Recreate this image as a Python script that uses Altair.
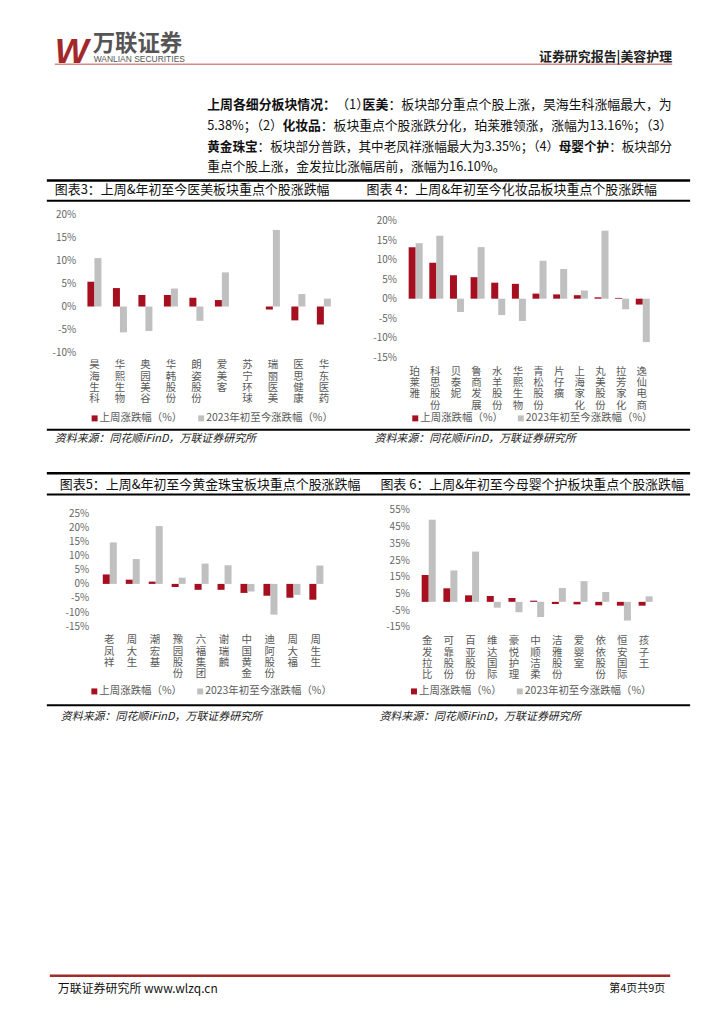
import altair as alt
import pandas as pd

FONT = "Noto Sans CJK SC"
RED = "#a50f1f"
GRAY = "#c0c0c0"
SERIES = ["上周涨跌幅（%）", "2023年初至今涨跌幅（%）"]

# ---- chart 3: 医美 ----
c3_names = ["昊海生科", "华熙生物", "奥园美谷", "华韩股份", "朗姿股份", "爱美客", "苏宁环球", "瑞丽医美", "医思健康", "华东医药"]
c3_week = [5.38, 4.0, 2.5, 2.5, 1.9, 1.4, 0.0, -0.65, -3.0, -3.9]
c3_ytd = [10.5, -5.6, -5.3, 3.9, -3.1, 7.4, 0.0, 16.6, 2.7, 1.7]
c3_ticks = [-10, -5, 0, 5, 10, 15, 20]

# ---- chart 4: 化妆品 ----
c4_names = ["珀莱雅", "科思股份", "贝泰妮", "鲁商发展", "水羊股份", "华熙生物", "青松股份", "片仔癀", "上海家化", "丸美股份", "拉芳家化", "逸仙电商"]
c4_week = [13.16, 9.2, 6.0, 5.5, 4.1, 3.8, 1.3, 1.1, 0.9, 0.35, 0.2, -1.5]
c4_ytd = [14.2, 16.1, -3.4, 13.2, -4.2, -5.7, 9.7, 7.6, 2.1, 17.4, -2.7, -11.1]
c4_ticks = [-15, -10, -5, 0, 5, 10, 15, 20]

# ---- chart 5: 黄金珠宝 ----
c5_names = ["老凤祥", "周大生", "潮宏基", "豫园股份", "六福集团", "谢瑞麟", "中国黄金", "迪阿股份", "周大福", "周生生"]
c5_week = [3.35, 1.5, 0.8, -1.1, -2.1, -2.1, -3.2, -4.2, -4.9, -5.6]
c5_ytd = [14.7, 8.8, 20.5, 2.2, 7.2, 6.6, -2.7, -10.9, -3.9, 6.5]
c5_ticks = [-15, -10, -5, 0, 5, 10, 15, 20, 25]

# ---- chart 6: 母婴个护 ----
c6_names = ["金发拉比", "可靠股份", "百亚股份", "维达国际", "豪悦护理", "中顺洁柔", "洁雅股份", "爱婴室", "依依股份", "恒安国际", "孩子王"]
c6_week = [16.10, 8.1, 3.9, 3.5, 2.3, 0.7, -1.3, -1.5, -2.1, -2.3, -2.3]
c6_ytd = [49.2, 18.8, 30.1, -3.5, -6.2, -9.0, 8.3, 12.4, 5.9, -11.2, 3.3]
c6_ticks = [-15, -5, 5, 15, 25, 35, 45, 55]

titles = [
    "图表3：上周&年初至今医美板块重点个股涨跌幅",
    "图表 4：上周&年初至今化妆品板块重点个股涨跌幅",
    "图表5：上周&年初至今黄金珠宝板块重点个股涨跌幅",
    "图表 6：上周&年初至今母婴个护板块重点个股涨跌幅",
]
source_text = "资料来源：同花顺iFinD，万联证券研究所"

para_lines = [
    [("上周各细分板块情况：", True), ("（1）", False), ("医美", True), ("：板块部分重点个股上涨，昊海生科涨幅最大，为", False)],
    [("5.38%；（2）", False), ("化妆品", True), ("：板块重点个股涨跌分化，珀莱雅领涨，涨幅为13.16%；（3）", False)],
    [("黄金珠宝", True), ("：板块部分普跌，其中老凤祥涨幅最大为3.35%；（4）", False), ("母婴个护", True), ("：板块部分", False)],
    [("重点个股上涨，金发拉比涨幅居前，涨幅为16.10%。", False)],
]

D = alt.Data(values=[{"a": 0}])


def tw(s, fs):
    w = 0.0
    prev = ""
    for c in s:
        if ord(c) >= 0x2E80 or c in "：；，。（）":
            w += fs
            if c == "（" and prev in "：；，。）":
                w -= 0.5 * fs
        elif c in ".,":
            w += 0.28 * fs
        elif c == "%":
            w += 0.88 * fs
        elif c.isdigit():
            w += 0.553 * fs
        elif c == " ":
            w += 0.22 * fs
        else:
            w += 0.6 * fs
        prev = c
    return w


def txt(s, x, y, size=12, color="#222", align="left", weight="normal", style="normal", font=FONT, baseline="middle"):
    return alt.Chart(D).mark_text(text=s, align=align, baseline=baseline, fontSize=size, color=color,
                                  fontWeight=weight, fontStyle=style, font=font).encode(
        x=alt.value(x), y=alt.value(y))


def hline(x1, x2, y, w=1, color="#000"):
    return alt.Chart(D).mark_rule(color=color, strokeWidth=w).encode(
        x=alt.value(x1), x2=alt.value(x2), y=alt.value(y))


def square(x, y, color):
    return alt.Chart(D).mark_square(size=36, color=color, opacity=1).encode(x=alt.value(x), y=alt.value(y))


def legend(xr, xg, y):
    return [square(xr, y, RED), txt(SERIES[0], xr + 5, y, 10.5, "#595959"),
            square(xg, y, GRAY), txt(SERIES[1], xg + 5, y, 10.5, "#595959")]


def spacer(w, h):
    return alt.Chart(D).mark_point(opacity=0).encode(x=alt.value(0), y=alt.value(0)).properties(width=w, height=h)


def bar_chart(names, week, ytd, domain, ticks, yrange, width, height, pin, xpad, ypad):
    n = len(names)
    df = pd.DataFrame({
        "name": names + names,
        "series": [SERIES[0]] * n + [SERIES[1]] * n,
        "value": week + ytd,
    })
    return alt.Chart(df).mark_bar().encode(
        x=alt.X("name:N", sort=names,
                scale=alt.Scale(paddingInner=pin, paddingOuter=pin / 2),
                axis=alt.Axis(title=None, labelAngle=0, domain=False, ticks=False,
                              labelExpr="split(datum.label, '')", labelBaseline="top",
                              labelAlign="center", labelLineHeight=11.3, labelFontSize=10.5,
                              labelColor="#595959", labelPadding=xpad, labelFont=FONT,
                              labelOverlap=False, labelLimit=200)),
        xOffset=alt.XOffset("series:N", sort=SERIES, scale=alt.Scale(domain=SERIES, paddingInner=0)),
        y=alt.Y("value:Q", scale=alt.Scale(domain=domain, range=yrange, nice=False, zero=False),
                axis=alt.Axis(title=None, values=ticks, grid=False, domain=False, ticks=False,
                              labelExpr="datum.value + '%'", labelFontSize=10, labelColor="#666666",
                              labelPadding=ypad, labelFont=FONT)),
        y2=alt.datum(0),
        color=alt.Color("series:N", scale=alt.Scale(domain=SERIES, range=[RED, GRAY]), legend=None),
    ).properties(width=width, height=height)


# ---------------- header panel (page y 8 .. 213) ----------------
hdr = [
    txt("W", 44, 53, 36, "#a3282c", weight="bold", style="italic", font="Liberation Sans", baseline="alphabetic"),
    txt("万联证券", 82, 34.5, 22.5, "#555555", weight="bold"),
    txt("WANLIAN SECURITIES", 83, 52.5, 8.5, "#555555", font="Liberation Sans", baseline="alphabetic"),
    hline(44, 664, 54.3, 1, "#c0504d"),
    txt("证券研究报告|美容护理", 664, 47, 13, "#222222", align="right", weight="bold"),
]
target = 467.0
x0 = 197
for i, line in enumerate(para_lines):
    y = 95 + 21 * i
    nat = sum(tw(s, 1.0) for s, _ in line)
    fs = 12.8 if i == len(para_lines) - 1 else min(13.5, max(12.0, target / nat))
    x = x0
    for s, b in line:
        hdr.append(txt(s, x, y, fs, "#111111", weight="bold" if b else "normal"))
        x += tw(s, fs)
hdr += [
    hline(36, 682, 171, 2.5),
    txt(titles[0], 44, 181, 13, "#111111"),
    txt(titles[1], 357, 181, 13, "#111111"),
    hline(36, 682, 191.5, 2),
]
header = alt.layer(*hdr).properties(width=708, height=205)

# ---------------- row 1 (page y 213 .. 356.7) ----------------
R1H = 143.7
ch3 = bar_chart(c3_names, c3_week, c3_ytd, [-10, 20], c3_ticks, [139, 0], 256, R1H, 0.45, 2.5, 6)
ch4 = bar_chart(c4_names, c4_week, c4_ytd, [-15, 20], c4_ticks, [143.7, 6.3], 248.8, R1H, 0.42, 9, 8)
row1 = alt.hconcat(spacer(71, R1H), ch3, spacer(67.6, R1H), ch4, spacing=0, bounds="flush")

# ---------------- middle panel (starts at the row-1 top, page y 213) ----------------
m = R1H
mid = legend(84, 191, m + 61.3) + legend(406, 512, m + 61.3) + [
    hline(36, 682, m + 72.8, 2),
    txt(source_text, 44, m + 82.3, 11, "#222222", style="italic"),
    txt(source_text, 365, m + 82.3, 11, "#222222", style="italic"),
    hline(36, 682, m + 116.3, 2.5),
    txt(titles[2], 49, m + 127.8, 13, "#111111"),
    txt(titles[3], 371, m + 127.8, 13, "#111111"),
    hline(36, 682, m + 137.8, 2),
]
middle = alt.layer(*mid).properties(width=708, height=m + 152.6)

# ---------------- row 2 (page y 509.3 .. 626.7) ----------------
R2H = 117.4
ch5 = bar_chart(c5_names, c5_week, c5_ytd, [-15, 25], c5_ticks, [116.7, 3.4], 230.5, R2H, 0.45, 8, 9)
ch6 = bar_chart(c6_names, c6_week, c6_ytd, [-15, 55], c6_ticks, [117.4, 0], 239.6, R2H, 0.5, 9, 7)
row2 = alt.hconcat(spacer(87, R2H), ch5, spacer(88.5, R2H), ch6, spacing=0, bounds="flush")

# ---------------- footer panel (starts at the row-2 top, page y 509.3) ----------------
f = R2H
ftr = legend(83.7, 190, f + 64.8) + legend(404.7, 511, f + 64.8) + [
    hline(36, 682, f + 78.8, 2),
    txt(source_text, 50, f + 90.3, 11, "#222222", style="italic"),
    txt(source_text, 370, f + 90.3, 11, "#222222", style="italic"),
    hline(39, 662, f + 350.3, 2.5, "#a52a2a"),
    txt("万联证券研究所 www.wlzq.cn", 47, f + 363.3, 12, "#111111"),
    txt("第4页共9页", 657, f + 363.3, 11, "#111111", align="right"),
]
footer = alt.layer(*ftr).properties(width=708, height=f + 380)

chart = alt.vconcat(header, row1, middle, row2, footer, spacing=0, bounds="flush").properties(
    padding=0
).configure_view(stroke=None)

chart.save("out.html", embed_options={"renderer": "svg", "actions": False})
